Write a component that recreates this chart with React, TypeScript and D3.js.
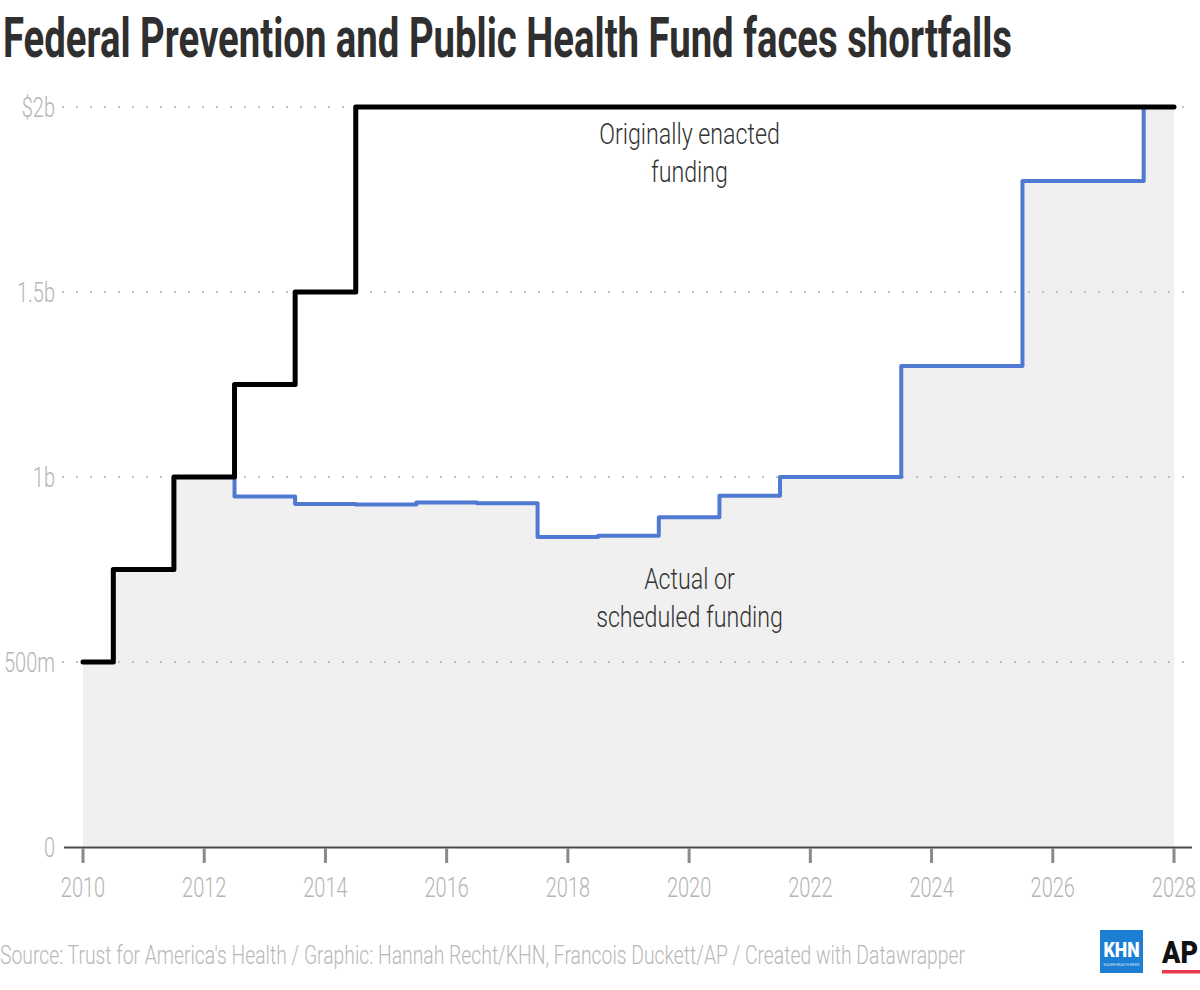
import React from "react";
import * as d3 from "d3";

const years = [2010, 2011, 2012, 2013, 2014, 2015, 2016, 2017, 2018, 2019, 2020, 2021, 2022, 2023, 2024, 2025, 2026, 2027, 2028];
const enacted = [0.5, 0.75, 1.0, 1.25, 1.5, 2, 2, 2, 2, 2, 2, 2, 2, 2, 2, 2, 2, 2, 2];
const actual = [0.5, 0.75, 1.0, 0.947, 0.927, 0.926, 0.931, 0.929, 0.838, 0.841, 0.891, 0.949, 1.0, 1.0, 1.3, 1.3, 1.8, 1.8, 2.0];
const yTicks = [0, 0.5, 1, 1.5, 2];
const yTickLabels = ["0", "500m", "1b", "1.5b", "$2b"];
const xTicks = [2010, 2012, 2014, 2016, 2018, 2020, 2022, 2024, 2026, 2028];

const title = "Federal Prevention and Public Health Fund faces shortfalls";
const source = "Source: Trust for America's Health / Graphic: Hannah Recht/KHN, Francois Duckett/AP / Created with Datawrapper";
const labelEnacted = ["Originally enacted", "funding"];
const labelActual = ["Actual or", "scheduled funding"];

const W = 1200;
const H = 990;
const FONT = "Roboto, 'Noto Sans', sans-serif";

export default function App() {
  const x = d3.scaleLinear().domain([2010, 2028]).range([83, 1174]);
  const y = d3.scaleLinear().domain([0, 2]).range([847, 107]);

  const line = d3
    .line<number>()
    .x((_, i) => x(years[i]))
    .y((d) => y(d))
    .curve(d3.curveStep);

  const area = d3
    .area<number>()
    .x((_, i) => x(years[i]))
    .y0(y(0))
    .y1((d) => y(d))
    .curve(d3.curveStep);

  const gridLeft = 63;
  const gridRight = 1186;

  return (
    <svg
      width={W}
      height={H}
      viewBox={`0 0 ${W} ${H}`}
      style={{ position: "absolute", left: 0, top: 0, background: "#fff" }}
    >
      <rect x={0} y={0} width={W} height={H} fill="#fff" />
      {/* Title */}
      <text
        x={3}
        y={57}
        fontFamily={FONT}
        fontWeight={700}
        fontSize={55}
        fill="#2f2f2f"
        textLength={1009}
        lengthAdjust="spacingAndGlyphs"
      >
        {title}
      </text>

      {/* Area */}
      <path d={area(actual) || ""} fill="#f0f0f0" />

      {/* Grid */}
      {yTicks.filter((t) => t > 0).map((t) => (
        <line
          key={t}
          x1={gridLeft}
          x2={gridRight}
          y1={y(t)}
          y2={y(t)}
          stroke="#b3b3b3"
          strokeWidth={2.2}
          strokeDasharray="0 14"
          strokeLinecap="round"
        />
      ))}

      {/* Y labels */}
      {yTicks.map((t, i) => (
        <text
          key={t}
          transform={`translate(55,${y(t) + 9.5}) scale(0.74,1)`}
          textAnchor="end"
          fontFamily={FONT}
          fontWeight={300}
          fontSize={27}
          fill="#b5b5b5"
        >
          {yTickLabels[i]}
        </text>
      ))}

      {/* X axis */}
      <line x1={64} x2={1192} y1={y(0) + 0.5} y2={y(0) + 0.5} stroke="#4a4a4a" strokeWidth={2} />
      {xTicks.map((t) => (
        <g key={t}>
          <line x1={x(t)} x2={x(t)} y1={y(0) + 1} y2={y(0) + 16} stroke="#8a8a8a" strokeWidth={3} />
          <text
            transform={`translate(${x(t)},897) scale(0.74,1)`}
            textAnchor="middle"
            fontFamily={FONT}
            fontWeight={300}
            fontSize={27}
            fill="#b5b5b5"
          >
            {t}
          </text>
        </g>
      ))}

      {/* Lines */}
      <path
        d={line(actual) || ""}
        fill="none"
        stroke="#5079d2"
        strokeWidth={4}
        strokeLinejoin="round"
        strokeLinecap="round"
      />
      <path
        d={line(enacted) || ""}
        fill="none"
        stroke="#000"
        strokeWidth={5}
        strokeLinejoin="round"
        strokeLinecap="round"
      />

      {/* Annotations */}
      {labelEnacted.map((s, i) => (
        <text
          key={s}
          transform={`translate(689.5,${144 + i * 38}) scale(0.8,1)`}
          textAnchor="middle"
          fontFamily={FONT}
          fontWeight={300}
          fontSize={29}
          fill="#333"
        >
          {s}
        </text>
      ))}
      {labelActual.map((s, i) => (
        <text
          key={s}
          transform={`translate(689.5,${589 + i * 38}) scale(0.8,1)`}
          textAnchor="middle"
          fontFamily={FONT}
          fontWeight={300}
          fontSize={29}
          fill="#333"
        >
          {s}
        </text>
      ))}

      {/* Footer */}
      <text
        x={0}
        y={964}
        fontFamily={FONT}
        fontWeight={300}
        fontSize={26}
        fill="#b8b8b8"
        textLength={965}
        lengthAdjust="spacingAndGlyphs"
      >
        {source}
      </text>

      {/* KHN logo */}
      <rect x={1100} y={930} width={43} height={43} fill="#1d7fd3" />
      <text
        x={1121.5}
        y={957}
        textAnchor="middle"
        fontFamily={FONT}
        fontWeight={900}
        fontSize={20}
        fill="#fff"
        textLength={36}
        lengthAdjust="spacingAndGlyphs"
      >
        KHN
      </text>
      <text
        x={1121.5}
        y={966}
        textAnchor="middle"
        fontFamily={FONT}
        fontSize={4}
        fill="#d8e8f8"
        textLength={36}
        lengthAdjust="spacingAndGlyphs"
      >
        KAISER HEALTH NEWS
      </text>

      {/* AP logo */}
      <text
        x={1162}
        y={963}
        fontFamily={FONT}
        fontWeight={900}
        fontSize={31}
        fill="#111"
        textLength={36}
        lengthAdjust="spacingAndGlyphs"
      >
        AP
      </text>
      <rect x={1162} y={970} width={38} height={3.5} fill="#e8394a" />
    </svg>
  );
}
